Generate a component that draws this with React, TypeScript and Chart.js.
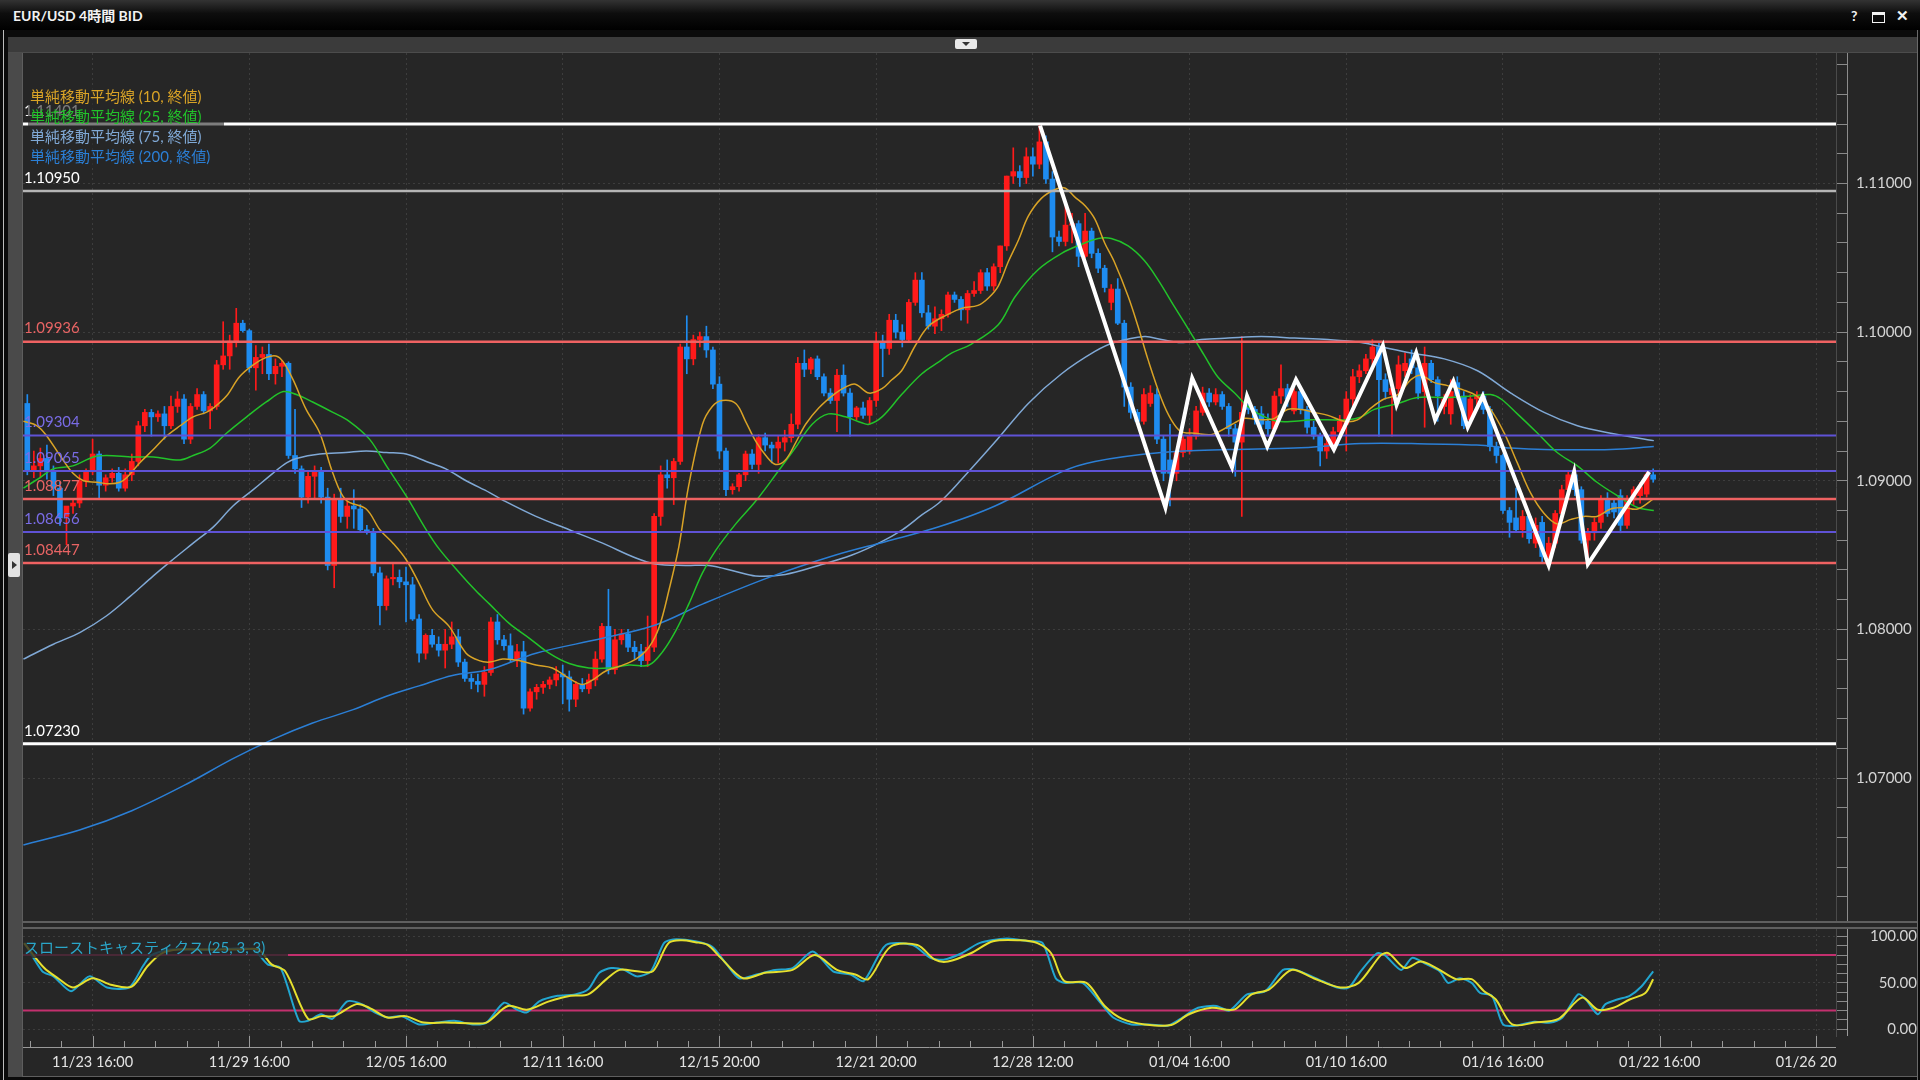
import React, { useEffect, useRef } from 'react';
import { Chart, registerables } from 'chart.js';

Chart.register(...registerables);

// ---------------- DATA ----------------
const opens = [
  1.0952,1.0907,1.0910,1.0915,1.0906,1.0895,1.0876,1.0883,1.0885,1.0900,
  1.0906,1.0918,1.0897,1.0902,1.0905,1.0895,1.0904,1.0913,1.0937,1.0946,
  1.0943,1.0945,1.0937,1.0950,1.0955,1.0928,1.0950,1.0958,1.0947,1.0950,
  1.0978,1.0984,1.0994,1.1006,1.1001,1.0976,1.0983,1.0985,1.0972,1.0977,
  1.0979,1.0917,1.0908,1.0889,1.0903,1.0907,1.0889,1.0843,1.0887,1.0876,
  1.0883,1.0881,1.0867,1.0866,1.0838,1.0816,1.0834,1.0835,1.0832,1.0830,
  1.0807,1.0784,1.0796,1.0790,1.0786,1.0790,1.0795,1.0778,1.0767,1.0765,
  1.0763,1.0771,1.0805,1.0793,1.0789,1.0780,1.0785,1.0747,1.0758,1.0761,
  1.0763,1.0766,1.0770,1.0768,1.0753,1.0763,1.0760,1.0766,1.0780,1.0802,
  1.0773,1.0793,1.0797,1.0788,1.0785,1.0779,1.0788,1.0876,1.0904,1.0902,
  1.0913,1.0990,1.0982,1.0995,1.0997,1.0988,1.0965,1.0920,1.0894,1.0896,
  1.0904,1.0918,1.0911,1.0929,1.0924,1.0922,1.0926,1.0929,1.0938,1.0979,
  1.0975,1.0982,1.0970,1.0959,1.0954,1.0971,1.0959,1.0943,1.0949,1.0944,
  1.0954,1.0993,1.0989,1.1008,1.1000,1.0995,1.1020,1.1035,1.1013,1.1004,
  1.1009,1.1012,1.1025,1.1022,1.1015,1.1026,1.1028,1.1040,1.1031,1.1044,
  1.1058,1.1105,1.1108,1.1104,1.1118,1.1113,1.1128,1.1103,1.1064,1.1061,
  1.1072,1.1073,1.1051,1.1068,1.1053,1.1043,1.1020,1.1029,1.1006,1.0963,
  1.0946,1.0940,1.0952,1.0958,1.0928,1.0914,1.0905,1.0919,1.0920,1.0930,
  1.0946,1.0959,1.0953,1.0958,1.0950,1.0935,1.0926,1.0950,1.0948,1.0945,
  1.0940,1.0935,1.0957,1.0962,1.0947,1.0960,1.0948,1.0936,1.0930,1.0920,
  1.0925,1.0933,1.0938,1.0955,1.0970,1.0974,1.0982,1.0990,1.0968,1.0958,
  1.0962,1.0974,1.0982,1.0976,1.0960,1.0979,1.0968,1.0950,1.0945,1.0966,
  1.0957,1.0941,1.0955,1.0957,1.0948,1.0923,1.0917,1.0880,1.0875,1.0867,
  1.0876,1.0858,1.0872,1.0849,1.0858,1.0878,1.0894,1.0904,1.0894,1.0860,
  1.0865,1.0872,1.0887,1.0885,1.0890,1.0870,1.0887,1.0890,1.0891,1.0904,
];
const highs = [
  1.0958,1.0920,1.0922,1.0924,1.0910,1.0899,1.0882,1.0888,1.0904,1.0908,
  1.0928,1.0920,1.0904,1.0908,1.0909,1.0908,1.0918,1.0940,1.0948,1.0948,
  1.0947,1.0950,1.0957,1.0960,1.0958,1.0952,1.0962,1.0960,1.0952,1.0981,
  1.1007,1.0998,1.1016,1.1008,1.1002,1.0991,1.0990,1.0992,1.0982,1.0981,
  1.0980,1.0948,1.0910,1.0906,1.0910,1.0909,1.0895,1.0891,1.0895,1.0886,
  1.0894,1.0884,1.0870,1.0868,1.0842,1.0836,1.0845,1.0840,1.0842,1.0835,
  1.0810,1.0797,1.0800,1.0795,1.0800,1.0805,1.0800,1.0780,1.0770,1.0770,
  1.0775,1.0808,1.0810,1.0796,1.0797,1.0790,1.0792,1.0760,1.0763,1.0765,
  1.0768,1.0775,1.0776,1.0772,1.0765,1.0767,1.0770,1.0785,1.0804,1.0827,
  1.0800,1.0800,1.0800,1.0792,1.0790,1.0809,1.0878,1.0910,1.0914,1.0915,
  1.0992,1.1011,1.0998,1.1000,1.1004,1.0990,1.0970,1.0922,1.0898,1.0905,
  1.0920,1.0921,1.0931,1.0932,1.0926,1.0930,1.0934,1.0945,1.0983,1.0988,
  1.0983,1.0984,1.0972,1.0962,1.0975,1.0978,1.0962,1.0950,1.0953,1.0956,
  1.1000,1.0998,1.1012,1.1012,1.1005,1.1022,1.1040,1.1040,1.1018,1.1017,
  1.1015,1.1027,1.1027,1.1024,1.1028,1.1034,1.1042,1.1043,1.1046,1.1058,
  1.1105,1.1124,1.1112,1.1124,1.1124,1.1139,1.1132,1.1108,1.1068,1.1087,
  1.1080,1.1075,1.1080,1.1070,1.1056,1.1045,1.1032,1.1036,1.1008,1.0966,
  1.0948,1.0962,1.0964,1.0962,1.0930,1.0938,1.0920,1.0930,1.0935,1.0950,
  1.0963,1.0962,1.0962,1.0960,1.0952,1.0938,1.0997,1.0956,1.0950,1.0950,
  1.0945,1.0960,1.0978,1.0965,1.0962,1.0962,1.0950,1.0940,1.0932,1.0928,
  1.0936,1.0944,1.0960,1.0975,1.0978,1.0985,1.0995,1.0993,1.0972,1.0966,
  1.0984,1.0986,1.0988,1.0978,1.0990,1.0981,1.0970,1.0958,1.0968,1.0970,
  1.0960,1.0958,1.0960,1.0960,1.0950,1.0926,1.0918,1.0882,1.0895,1.0880,
  1.0878,1.0875,1.0876,1.0862,1.0880,1.0897,1.0907,1.0907,1.0896,1.0868,
  1.0875,1.0890,1.0892,1.0888,1.0894,1.0890,1.0896,1.0899,1.0906,1.0908,
];
const lows = [
  1.0904,1.0902,1.0902,1.0901,1.0890,1.0870,1.0857,1.0878,1.0882,1.0896,
  1.0904,1.0888,1.0893,1.0899,1.0893,1.0893,1.0900,1.0910,1.0933,1.0930,
  1.0940,1.0928,1.0935,1.0946,1.0925,1.0925,1.0948,1.0945,1.0935,1.0948,
  1.0975,1.0975,1.0990,1.1000,1.0973,1.0961,1.0972,1.0968,1.0965,1.0970,
  1.0915,1.0905,1.0882,1.0885,1.0888,1.0885,1.0840,1.0828,1.0872,1.0868,
  1.0868,1.0866,1.0864,1.0836,1.0803,1.0813,1.0830,1.0828,1.0805,1.0806,
  1.0778,1.0780,1.0788,1.0782,1.0774,1.0787,1.0775,1.0765,1.0760,1.0758,
  1.0755,1.0769,1.0790,1.0786,1.0778,1.0775,1.0743,1.0745,1.0753,1.0757,
  1.0760,1.0762,1.0750,1.0745,1.0748,1.0758,1.0757,1.0762,1.0778,1.0770,
  1.0770,1.0790,1.0785,1.0780,1.0775,1.0775,1.0785,1.0870,1.0895,1.0884,
  1.0911,1.0972,1.0978,1.0990,1.0983,1.0962,1.0915,1.0890,1.0891,1.0893,
  1.0900,1.0908,1.0905,1.0920,1.0912,1.0912,1.0920,1.0926,1.0935,1.0970,
  1.0972,1.0968,1.0957,1.0952,1.0933,1.0957,1.0930,1.0941,1.0942,1.0938,
  1.0950,1.0970,1.0985,1.0996,1.0990,1.0993,1.1018,1.1010,1.1002,1.0999,
  1.1001,1.1010,1.1020,1.1008,1.1006,1.1024,1.1026,1.1028,1.1028,1.1040,
  1.1055,1.1100,1.1098,1.1100,1.1105,1.1110,1.1100,1.1054,1.1058,1.1058,
  1.1060,1.1044,1.1050,1.1050,1.1040,1.1027,1.1015,1.1005,1.0950,1.0942,
  1.0938,1.0938,1.0950,1.0925,1.0900,1.0883,1.0900,1.0916,1.0918,1.0928,
  1.0944,1.0950,1.0951,1.0948,1.0930,1.0903,1.0876,1.0945,1.0938,1.0935,
  1.0930,1.0933,1.0952,1.0950,1.0945,1.0945,1.0932,1.0928,1.0910,1.0915,
  1.0922,1.0930,1.0920,1.0950,1.0966,1.0972,1.0978,1.0930,1.0955,1.0930,
  1.0958,1.0970,1.0972,1.0955,1.0936,1.0966,1.0940,1.0945,1.0938,1.0955,
  1.0935,1.0938,1.0950,1.0945,1.0920,1.0912,1.0878,1.0862,1.0865,1.0862,
  1.0858,1.0855,1.0845,1.0845,1.0855,1.0875,1.0890,1.0890,1.0858,1.0845,
  1.0860,1.0868,1.0876,1.0875,1.0865,1.0868,1.0884,1.0885,1.0889,1.0899,
];
const closes = [
  1.0907,1.0910,1.0915,1.0906,1.0895,1.0875,1.0883,1.0885,1.0900,1.0906,
  1.0918,1.0897,1.0902,1.0905,1.0895,1.0904,1.0913,1.0937,1.0946,1.0943,
  1.0945,1.0937,1.0950,1.0955,1.0928,1.0950,1.0958,1.0947,1.0950,1.0978,
  1.0984,1.0994,1.1006,1.1001,1.0976,1.0983,1.0985,1.0972,1.0977,1.0979,
  1.0917,1.0908,1.0889,1.0903,1.0907,1.0889,1.0843,1.0887,1.0876,1.0883,
  1.0881,1.0867,1.0866,1.0838,1.0816,1.0834,1.0835,1.0832,1.0830,1.0807,
  1.0784,1.0796,1.0790,1.0786,1.0790,1.0795,1.0778,1.0767,1.0765,1.0763,
  1.0771,1.0805,1.0793,1.0789,1.0780,1.0785,1.0747,1.0758,1.0761,1.0763,
  1.0766,1.0770,1.0768,1.0753,1.0763,1.0760,1.0766,1.0780,1.0802,1.0773,
  1.0793,1.0797,1.0788,1.0785,1.0779,1.0788,1.0876,1.0904,1.0902,1.0913,
  1.0990,1.0982,1.0995,1.0997,1.0988,1.0965,1.0920,1.0894,1.0896,1.0904,
  1.0918,1.0911,1.0929,1.0924,1.0922,1.0926,1.0929,1.0938,1.0979,1.0975,
  1.0982,1.0970,1.0959,1.0954,1.0971,1.0959,1.0943,1.0949,1.0944,1.0954,
  1.0993,1.0989,1.1008,1.1000,1.0995,1.1020,1.1035,1.1013,1.1004,1.1009,
  1.1012,1.1025,1.1022,1.1015,1.1026,1.1028,1.1040,1.1031,1.1044,1.1058,
  1.1105,1.1108,1.1104,1.1118,1.1113,1.1128,1.1103,1.1064,1.1061,1.1072,
  1.1073,1.1051,1.1068,1.1053,1.1043,1.1030,1.1029,1.1006,1.0963,1.0946,
  1.0940,1.0958,1.0959,1.0928,1.0905,1.0905,1.0919,1.0928,1.0930,1.0947,
  1.0959,1.0953,1.0958,1.0950,1.0935,1.0926,1.0946,1.0948,1.0942,1.0938,
  1.0935,1.0957,1.0962,1.0955,1.0960,1.0948,1.0936,1.0930,1.0920,1.0925,
  1.0933,1.0940,1.0955,1.0970,1.0974,1.0982,1.0990,1.0968,1.0960,1.0962,
  1.0978,1.0979,1.0976,1.0959,1.0979,1.0968,1.0957,1.0955,1.0960,1.0957,
  1.0937,1.0955,1.0957,1.0948,1.0923,1.0917,1.0880,1.0872,1.0867,1.0876,
  1.0861,1.0870,1.0849,1.0858,1.0878,1.0894,1.0904,1.0894,1.0860,1.0865,
  1.0872,1.0887,1.0878,1.0879,1.0870,1.0887,1.0894,1.0896,1.0904,1.0901,
];

// Simple moving averages (bar index, price)
const sma10Bars = [-0.6,1.5,3,5,7,8.6,10.6,12.6,14.2,15.2,17.2,19.3,21.3,23.4,25.4,27.4,28.5,30.5,32.5,34.6,36.6,38.1,39.2,40.7,42.7,44.8,46.8,48.8,51.9,54,56,58,60,62.1,64.6,67.2,69.2,70.8,72.8,75.3,77.9,80.4,83,85,86.6,88.6,90.6,93.2,95.2,96.8,98.3,99.8,101.3,103.4,104.9,106.4,108.5,110,111.5,113.1,114.6,116.1,117.6,119.2,121.2,123.8,125.3,126.8,128.9,130.9,132.4,133.9,136,138,141,143.1,145.6,147.2,148.7,150.2,151.8,153.3,155.3,157.4,158.9,160.4,162,163.5,165,166.5,168.6,170.1,171.6,173.7,175.2,176.7,178.8,181.3,182.9,184.9,186.4,189,191,193,195.1,197.1,199.2,201.7,203.7,205.8,207.8,209.9,211.9,213.4,215.5,217.5,220,222,224.1,226.2,228.2,230.2,232.3,234.3,236.4,238.4,240.4,242.5,244.5,246.6,249.1];
const sma10Values = [1.0940,1.0937,1.0930,1.0917,1.0905,1.0900,1.0899,1.0898,1.0899,1.0902,1.0912,1.0921,1.0930,1.0937,1.0943,1.0946,1.0949,1.0957,1.0970,1.0978,1.0983,1.0984,1.0980,1.0968,1.0948,1.0932,1.0905,1.0887,1.0881,1.0867,1.0858,1.0847,1.0831,1.0813,1.0802,1.0784,1.0779,1.0778,1.0780,1.0779,1.0776,1.0774,1.0767,1.0763,1.0766,1.0772,1.0775,1.0780,1.0788,1.0802,1.0827,1.0856,1.0897,1.0938,1.0950,1.0954,1.0952,1.0940,1.0927,1.0917,1.0911,1.0914,1.0925,1.0938,1.0949,1.0959,1.0963,1.0965,1.0959,1.0962,1.0968,1.0974,1.0991,1.1004,1.1012,1.1016,1.1018,1.1023,1.1031,1.1047,1.1062,1.1078,1.1090,1.1096,1.1097,1.1091,1.1085,1.1076,1.1060,1.1047,1.1024,1.1004,1.0982,1.0955,1.0941,1.0933,1.0932,1.0931,1.0934,1.0939,1.0942,1.0941,1.0942,1.0948,1.0948,1.0946,1.0944,1.0940,1.0941,1.0949,1.0955,1.0958,1.0968,1.0971,1.0966,1.0964,1.0961,1.0957,1.0948,1.0932,1.0912,1.0892,1.0878,1.0871,1.0874,1.0876,1.0876,1.0881,1.0882,1.0881,1.0888];

const sma25Bars = [-0.6,1.9,4,7,10.1,12.1,16.2,19.3,23.4,25.4,28,30.5,33.6,36.6,39.2,41.2,43.7,46.8,49.3,52.4,55,58,61.1,63.1,66.2,68.7,70.8,73.8,76.9,79.9,83,86,89.1,92.2,95.2,97.3,99.3,101.3,103.4,105.4,108.5,111.5,114.6,117.6,120.2,122.7,125.3,127.8,128.9,130.9,133.9,137,139.6,141.6,144.6,148.7,151.3,154.8,158.4,161.4,164,166,168.6,171.1,173.2,175.7,178.8,180.3,182.3,184.9,186.9,189,191.5,194.1,196.6,199.2,202.2,204.3,206.3,209.9,212.9,217,221.1,224.1,225.7,228.2,231.3,234.3,237.4,240.4,243.5,246.6,249.1];
const sma25Values = [1.0895,1.0902,1.0908,1.0910,1.0916,1.0917,1.0916,1.0916,1.0914,1.0917,1.0922,1.0932,1.0943,1.0953,1.0960,1.0958,1.0953,1.0946,1.0940,1.0928,1.0910,1.0890,1.0867,1.0854,1.0838,1.0826,1.0817,1.0804,1.0794,1.0784,1.0777,1.0774,1.0774,1.0776,1.0776,1.0785,1.0799,1.0817,1.0838,1.0853,1.0871,1.0886,1.0904,1.0922,1.0938,1.0945,1.0943,1.0939,1.0938,1.0943,1.0958,1.0972,1.0980,1.0986,1.0992,1.1005,1.1024,1.1042,1.1053,1.1059,1.1063,1.1063,1.1058,1.1048,1.1035,1.1017,1.0995,1.0984,1.0970,1.0959,1.0950,1.0944,1.0940,1.0940,1.0941,1.0941,1.0941,1.0943,1.0948,1.0952,1.0956,1.0956,1.0957,1.0958,1.0955,1.0945,1.0932,1.0919,1.0910,1.0899,1.0890,1.0882,1.0880];

const sma75Bars = [-0.6,4,8.1,12.1,15.7,19.3,22.3,25.4,28.5,31.5,34.6,37.6,39.7,41.2,44.8,48.8,51.9,55,58,61.1,64.1,67.2,70.8,72.8,77.9,83,88.1,93.2,96.2,100.8,104.4,108.5,111.5,116.1,121.2,126.3,130.4,134,137,139.6,143.1,148.2,153.3,158.4,163.5,166.5,171.1,173.7,176.7,179.8,183.9,189,194.1,199.2,204.3,207.5,211.9,217,222.1,227.2,232.3,237.4,242.5,249.1];
const sma75Values = [1.0780,1.0790,1.0798,1.0809,1.0822,1.0836,1.0847,1.0858,1.0869,1.0883,1.0894,1.0905,1.0912,1.0915,1.0918,1.0919,1.0920,1.0919,1.0918,1.0913,1.0908,1.0900,1.0892,1.0887,1.0876,1.0867,1.0858,1.0848,1.0844,1.0843,1.0843,1.0839,1.0836,1.0837,1.0843,1.0850,1.0858,1.0867,1.0877,1.0885,1.0901,1.0926,1.0952,1.0972,1.0987,1.0993,1.0997,1.0995,1.0993,1.0995,1.0996,1.0997,1.0996,1.0995,1.0993,1.0990,1.0986,1.0982,1.0974,1.0959,1.0946,1.0937,1.0932,1.0927];

const sma200Bars = [-0.6,8,16,24,31.5,37.6,43.7,49.9,55,60,65.1,70.8,77.9,88.1,96.2,103.4,113.6,123.8,131.4,139.6,148.2,158.4,163.5,173.7,183.9,194.1,204.3,212,222,227.2,232.3,242.5,249.1];
const sma200Values = [1.0655,1.0665,1.0678,1.0695,1.0713,1.0726,1.0737,1.0746,1.0755,1.0762,1.0769,1.0773,1.0784,1.0794,1.0803,1.0817,1.0835,1.0850,1.0859,1.0869,1.0883,1.0906,1.0913,1.0919,1.0921,1.0922,1.0925,1.0925,1.0924,1.0922,1.0921,1.0921,1.0923];

// Horizontal price levels
const levelPrices = [1.11401, 1.10950, 1.09936, 1.09304, 1.09065, 1.08877, 1.08656, 1.08447, 1.07230];
const levelKinds = ['white', 'gray', 'red', 'purple', 'purple', 'red', 'purple', 'red', 'white'];

// White zigzag drawn on the chart
const zigzagBars = [155.1, 174.3, 178.4, 184.5, 186.8, 189.9, 194.3, 200.1, 207.6, 209.7, 212.7, 215.6, 218.4, 220.6, 222.9, 233.0, 236.9, 239.0, 248.4];
const zigzagPrices = [1.1139, 1.0882, 1.0969, 1.0909, 1.0957, 1.0923, 1.0968, 1.0921, 1.0991, 1.0951, 1.0986, 1.0941, 1.0967, 1.0936, 1.0957, 1.0843, 1.0906, 1.0844, 1.0906];

// Slow stochastics (25,3,3)
const stochKBars = [-0.4,2.3,4,6.7,9.5,12.2,15.6,17.7,19,21.8,25.2,28.6,32.7,34.7,36.8,38.8,41.6,43,45,46.7,49,51.2,53.2,55.2,57.3,60,62.7,65.4,68.2,70.3,73,75,76.5,78.4,81.2,83.9,85.9,87.6,89.4,91.4,93.4,95.5,97.5,98.9,102.3,104.9,107,109,111.7,114.5,117.2,120.3,123.4,126.1,128.1,131.5,135.6,138.3,140.3,143.1,145.8,150,153.3,155.5,157.5,158.8,161.6,164.3,166.3,169.1,171.8,174.6,176.6,179.3,182.1,184.1,186.8,189.6,192.3,194.3,198.3,200.6,202.4,204.2,206.7,207.9,210.4,212.1,214,216.3,217.6,219.4,221.2,222.5,224.3,226,227.8,230.8,233.3,235.1,237.5,238.7,240.5,241.7,243.5,245.4,247.2,249];
const stochKValues = [93,62.5,57,41,57,45,45,68,80,86,86,86,87.5,86,70,66,9,9,16,11,30,27,18,12.5,14,5,7,9,5,7,28.5,21,18,30,36,37.5,43,61,66,64,57,62.5,93,97,95,89,71,55,59,64,66,84,62.5,59,52,91,91,77,75,82,93,98,95,93,55,50,50,29,12.5,5,5,3.6,11,23,25,20,37.5,41,64,64,52,45,45,62.5,82,80,64,77,71,62.5,50,55,50,39,36,5,3.6,8,7,12.5,37.5,32,16,27,32,36,46,62.5];
const stochDBars = [-0.5,2.6,4.7,7,10,12.8,16,18.4,20.6,23.2,27.3,32.7,35.4,37.4,39.5,43,45,47,50.4,52.4,55.2,57.9,60.7,64,67.5,70.3,73.6,76.5,79.9,83.2,85.9,88.7,90.7,93.4,95.8,98.2,100.2,102.3,104.2,106.2,109.6,113,117.2,120.6,124,126.8,128.8,132.2,136.3,139,141,144.5,147.9,152,154.7,156.8,158.8,162.2,165,167.7,171.1,175.2,177.9,181.4,184.8,187.5,190.2,193.6,197,201.1,203.9,207.3,208.5,211,213.4,215.8,218.8,221.2,223.1,224.9,227.4,230.8,234.5,238.1,240.5,242.9,245.4,247.8,249];
const stochDValues = [93,66,55,45,55,48,46,68,82,86,86,86,86,70,62.5,11,14,14,27,23,12.5,14,7,7,6.4,7,25,21,30,36,37.5,54,64,62.5,62.5,93,96,94,91,77,55,61,64,80,64,59,54,89,91,75,73,82,95,96,93,82,52,50,25,11,5,4.3,16,23,21,37.5,43,64,55,45,50,80,82,66,73,66,54,54,41,32,5,7,11,34,21,23,32,39,54];
const stochLevels = [80, 20];

// Axis labels
const timeLabelBars = [10, 34, 58, 82, 106, 130, 154, 178, 202, 226, 250, 274];
const timeLabels = ['11/23 16:00', '11/29 16:00', '12/05 16:00', '12/11 16:00', '12/15 20:00', '12/21 20:00', '12/28 12:00', '01/04 16:00', '01/10 16:00', '01/16 16:00', '01/22 16:00', '01/26 20:00'];
const legendTexts = ['単純移動平均線 (10, 終値)', '単純移動平均線 (25, 終値)', '単純移動平均線 (75, 終値)', '単純移動平均線 (200, 終値)'];
const stochTitle = 'スローストキャスティクス (25, 3, 3)';
const chartTitle = 'EUR/USD 4時間 BID';

// ---------------- STYLE ----------------
const FONT = 'Lato, "Noto Sans CJK JP", sans-serif';
const BG = '#262626';
const UP = '#ff1a1a';
const DOWN = '#1e8cf0';
const C10 = '#d9a326';
const C25 = '#22c32a';
const C75 = '#80a9d6';
const C200 = '#2b7fd6';
const KIND_COLOR: Record<string, string> = { white: '#ffffff', gray: '#b5b5b5', red: '#ef6262', purple: '#5f52d6' };
const KIND_LABEL: Record<string, string> = { white: '#ffffff', gray: '#ffffff', red: '#e86464', purple: '#7a6ce6' };
const KIND_WIDTH: Record<string, number> = { white: 3, gray: 2.5, red: 2.5, purple: 2 };

const X_MIN = -0.66;
const X_MAX = 277.0;
const P_MIN = 1.06038;
const P_MAX = 1.11878;
const S_MIN = -7.5;
const S_MAX = 108.25;
const AXIS_W = 81;

const pts = (xs: number[], ys: number[]) => xs.map((x, k) => ({ x, y: ys[k] }));
const isPriceMajor = (v: number) => Math.abs(v * 100 - Math.round(v * 100)) < 1e-6;

function buildTimeTicks() {
  const out: { value: number; major: boolean }[] = [];
  const step = (timeLabelBars[1] - timeLabelBars[0]) / 5;
  for (let k = 2; k >= 1; k--) out.push({ value: timeLabelBars[0] - step * k, major: false });
  timeLabelBars.forEach((b, j) => {
    out.push({ value: b, major: true });
    const next = j + 1 < timeLabelBars.length ? timeLabelBars[j + 1] : b + (b - timeLabelBars[j - 1]);
    for (let m = 1; m < 5; m++) {
      const v = b + ((next - b) * m) / 5;
      if (v <= X_MAX) out.push({ value: v, major: false });
    }
  });
  return out;
}

const mainOverlay = {
  id: 'mainOverlay',
  afterDatasetsDraw(chart: any) {
    const { ctx, chartArea, scales } = chart;
    const ys = scales.y;
    ctx.save();
    ctx.font = `15px ${FONT}`;
    ctx.textBaseline = 'middle';
    ctx.textAlign = 'left';
    levelPrices.forEach((v, k) => {
      const y = ys.getPixelForValue(v);
      ctx.fillStyle = KIND_LABEL[levelKinds[k]];
      ctx.fillText(v.toFixed(5), chartArea.left + 1, y - 13);
    });
    ctx.fillStyle = 'rgba(38,38,38,0.6)';
    ctx.fillRect(5, 33, 196, 80);
    const legendColors = [C10, C25, C75, C200];
    legendTexts.forEach((t, k) => {
      ctx.fillStyle = legendColors[k];
      ctx.fillText(t, 7, 44 + k * 20);
    });
    ctx.strokeStyle = '#8c8c8c';
    ctx.lineWidth = 1;
    ctx.beginPath();
    ctx.moveTo(chartArea.right + 11.5, 0);
    ctx.lineTo(chartArea.right + 11.5, chart.height);
    ctx.stroke();
    ctx.restore();
  },
};

const stochOverlay = {
  id: 'stochOverlay',
  afterDatasetsDraw(chart: any) {
    const { ctx } = chart;
    ctx.save();
    ctx.fillStyle = 'rgba(38,38,38,0.78)';
    ctx.fillRect(0, 10, 265, 19);
    ctx.font = `15px ${FONT}`;
    ctx.textBaseline = 'middle';
    ctx.fillStyle = '#2aa6c9';
    ctx.fillText(stochTitle, 1, 19);
    ctx.restore();
  },
  afterDraw(chart: any) {
    const { ctx, chartArea: ca, scales } = chart;
    const xs = scales.x;
    ctx.save();
    ctx.fillStyle = BG;
    ctx.fillRect(ca.right + 1, ca.bottom + 10, chart.width - ca.right, chart.height - ca.bottom);
    ctx.strokeStyle = '#9a9a9a';
    ctx.lineWidth = 1;
    xs.ticks.forEach((t: any) => {
      const px = Math.round(xs.getPixelForValue(t.value)) + 0.5;
      ctx.beginPath();
      ctx.moveTo(px, ca.bottom + (t.major ? 0 : 5));
      ctx.lineTo(px, ca.bottom + 11);
      ctx.stroke();
    });
    ctx.beginPath();
    ctx.moveTo(ca.left, ca.bottom + 11.5);
    ctx.lineTo(ca.right, ca.bottom + 11.5);
    ctx.stroke();
    ctx.beginPath();
    ctx.moveTo(ca.right + 11.5, 0);
    ctx.lineTo(ca.right + 11.5, ca.bottom);
    ctx.stroke();
    ctx.restore();
  },
};

function mainConfig(): any {
  const idx = closes.map((_, i) => i);
  const colors = idx.map((i) => (closes[i] >= opens[i] ? UP : DOWN));
  const maLine = (xs: number[], ys: number[], color: string, order: number) => ({
    type: 'line',
    data: pts(xs, ys),
    borderColor: color,
    borderWidth: 1.5,
    pointRadius: 0,
    tension: 0.35,
    order,
  });
  const levelSets = levelPrices.map((v, k) => ({
    type: 'line',
    data: [{ x: X_MIN, y: v }, { x: X_MAX, y: v }],
    borderColor: KIND_COLOR[levelKinds[k]],
    borderWidth: KIND_WIDTH[levelKinds[k]],
    pointRadius: 0,
    order: 3,
  }));
  return {
    type: 'bar',
    data: {
      datasets: [
        {
          type: 'bar',
          data: idx.map((i) => ({ x: i, y: [lows[i], highs[i]] })),
          backgroundColor: colors,
          barThickness: 1,
          grouped: false,
          order: 12,
        },
        {
          type: 'bar',
          data: idx.map((i) => ({ x: i, y: [opens[i], closes[i]] })),
          backgroundColor: colors,
          barThickness: 5,
          minBarLength: 1,
          grouped: false,
          order: 11,
        },
        maLine(sma200Bars, sma200Values, C200, 6),
        maLine(sma75Bars, sma75Values, C75, 6),
        maLine(sma25Bars, sma25Values, C25, 5),
        maLine(sma10Bars, sma10Values, C10, 4),
        ...levelSets,
        {
          type: 'line',
          data: pts(zigzagBars, zigzagPrices),
          borderColor: '#ffffff',
          borderWidth: 4,
          pointRadius: 0,
          tension: 0,
          order: 0,
        },
      ],
    },
    options: {
      animation: false,
      responsive: false,
      events: [],
      layout: { padding: 0 },
      plugins: { legend: { display: false }, tooltip: { enabled: false } },
      scales: {
        x: {
          type: 'linear',
          min: X_MIN,
          max: X_MAX,
          offset: false,
          afterBuildTicks: (s: any) => {
            s.ticks = timeLabelBars.map((v) => ({ value: v }));
          },
          afterFit: (s: any) => {
            s.height = 0;
            s.paddingLeft = 0;
            s.paddingRight = 0;
          },
          ticks: { display: false },
          grid: { color: '#3d3d3d', drawTicks: false, offset: false },
          border: { display: false, dash: [2, 3] },
        },
        y: {
          position: 'right',
          min: P_MIN,
          max: P_MAX,
          afterFit: (s: any) => {
            s.width = AXIS_W;
            s.paddingTop = 0;
            s.paddingBottom = 0;
          },
          ticks: {
            stepSize: 0.002,
            includeBounds: false,
            autoSkip: false,
            padding: 9,
            color: '#d4d4d4',
            font: { family: FONT, size: 15 },
            callback: (v: number) => (isPriceMajor(v) ? v.toFixed(5) : ''),
          },
          grid: {
            color: (c: any) => (c.tick && isPriceMajor(c.tick.value) ? '#3d3d3d' : 'rgba(0,0,0,0)'),
            tickColor: '#8a8a8a',
            tickLength: 11,
            drawTicks: true,
          },
          border: { display: true, color: '#4a4a4a', dash: [2, 3] },
        },
      },
    },
    plugins: [mainOverlay],
  };
}

function stochConfig(): any {
  const ticks = buildTimeTicks();
  return {
    type: 'line',
    data: {
      datasets: [
        ...stochLevels.map((v) => ({
          data: [{ x: X_MIN, y: v }, { x: X_MAX, y: v }],
          borderColor: '#c3306e',
          borderWidth: 2,
          pointRadius: 0,
          order: 5,
        })),
        {
          data: pts(stochKBars, stochKValues),
          borderColor: '#22a6d0',
          borderWidth: 2,
          pointRadius: 0,
          tension: 0.25,
          order: 2,
        },
        {
          data: pts(stochDBars, stochDValues),
          borderColor: '#e6e02e',
          borderWidth: 2,
          pointRadius: 0,
          tension: 0.3,
          order: 1,
        },
      ],
    },
    options: {
      animation: false,
      responsive: false,
      events: [],
      layout: { padding: 0 },
      plugins: { legend: { display: false }, tooltip: { enabled: false } },
      scales: {
        x: {
          type: 'linear',
          min: X_MIN,
          max: X_MAX,
          offset: false,
          afterBuildTicks: (s: any) => {
            s.ticks = ticks.map((t) => ({ ...t }));
          },
          afterFit: (s: any) => {
            s.height = 40;
            s.paddingLeft = 0;
            s.paddingRight = 0;
          },
          ticks: {
            autoSkip: false,
            maxRotation: 0,
            padding: 18,
            color: '#e4e4e4',
            font: { family: FONT, size: 14.5 },
            callback: (v: number) => {
              const j = timeLabelBars.indexOf(v);
              return j >= 0 ? timeLabels[j] : '';
            },
          },
          grid: {
            color: (c: any) => (c.tick && timeLabelBars.indexOf(c.tick.value) >= 0 ? '#3d3d3d' : 'rgba(0,0,0,0)'),
            drawTicks: false,
          },
          border: { display: false, dash: [2, 3] },
        },
        y: {
          position: 'right',
          min: S_MIN,
          max: S_MAX,
          afterFit: (s: any) => {
            s.width = AXIS_W;
            s.paddingTop = 0;
            s.paddingBottom = 0;
          },
          ticks: {
            stepSize: 10,
            includeBounds: false,
            autoSkip: false,
            padding: 16,
            crossAlign: 'far',
            color: '#d4d4d4',
            font: { family: FONT, size: 15 },
            callback: (v: number) => (v % 50 === 0 ? v.toFixed(2) : ''),
          },
          grid: {
            color: (c: any) => (c.tick && c.tick.value % 50 === 0 ? '#3d3d3d' : 'rgba(0,0,0,0)'),
            tickColor: '#8a8a8a',
            tickLength: 11,
          },
          border: { display: true, color: '#4a4a4a', dash: [2, 3] },
        },
      },
    },
    plugins: [stochOverlay],
  };
}

export default function App() {
  const mainRef = useRef<HTMLCanvasElement>(null);
  const stochRef = useRef<HTMLCanvasElement>(null);

  useEffect(() => {
    const c1 = new Chart(mainRef.current as HTMLCanvasElement, mainConfig());
    const c2 = new Chart(stochRef.current as HTMLCanvasElement, stochConfig());
    return () => {
      c1.destroy();
      c2.destroy();
    };
  }, []);

  const abs = (s: React.CSSProperties): React.CSSProperties => ({ position: 'absolute', ...s });

  return (
    <div style={{ position: 'fixed', left: 0, top: 0, width: 1920, height: 1080, background: '#0b0b0b', overflow: 'hidden', fontFamily: FONT }}>
      {/* title bar */}
      <div style={abs({ left: 0, top: 0, width: 1920, height: 30, background: 'linear-gradient(#333 0%, #0d0d0d 45%, #000 100%)' })} />
      <div style={abs({ left: 13, top: 6, color: '#f2f2f2', fontSize: 14, fontWeight: 700, lineHeight: '20px' })}>{chartTitle}</div>
      <div style={abs({ left: 1851, top: 6, color: '#f2f2f2', fontSize: 14, fontWeight: 700, lineHeight: '20px' })}>?</div>
      <div style={abs({ left: 1872, top: 12, width: 11, height: 7, border: '1.5px solid #f2f2f2', borderTopWidth: 3 })} />
      <div style={abs({ left: 1896, top: 5, color: '#f2f2f2', fontSize: 15, fontWeight: 700, lineHeight: '20px' })}>✕</div>
      {/* window borders */}
      <div style={abs({ left: 3, top: 30, width: 1, height: 1050, background: '#bdbdbd' })} />
      <div style={abs({ left: 1917, top: 30, width: 1, height: 1050, background: '#6a6a6a' })} />
      {/* toolbar band */}
      <div style={abs({ left: 8, top: 37, width: 1909, height: 15, background: '#3b3b3b', borderBottom: '1px solid #4c4c4c' })} />
      <div style={abs({ left: 955, top: 39, width: 22, height: 10, background: '#e8e8e8', borderRadius: 2 })} />
      <div style={abs({ left: 962, top: 42, width: 0, height: 0, borderLeft: '4px solid transparent', borderRight: '4px solid transparent', borderTop: '4px solid #333' })} />
      {/* left strip */}
      <div style={abs({ left: 8, top: 53, width: 14, height: 1024, background: '#4a4a4a', borderRight: '1px solid #5e5e5e' })} />
      <div style={abs({ left: 8, top: 553, width: 12, height: 24, background: '#e2e2e2', borderRadius: 2 })} />
      <div style={abs({ left: 12, top: 561, width: 0, height: 0, borderTop: '4px solid transparent', borderBottom: '4px solid transparent', borderLeft: '5px solid #333' })} />
      {/* panels */}
      <div style={abs({ left: 23, top: 53, width: 1894, height: 1024, background: BG })} />
      <div style={abs({ left: 23, top: 921, width: 1894, height: 2, background: '#5f5f5f' })} />
      <div style={abs({ left: 23, top: 927, width: 1894, height: 2, background: '#5f5f5f' })} />
      <div style={abs({ left: 23, top: 1076, width: 1894, height: 1, background: '#5f5f5f' })} />
      <canvas ref={mainRef} width={1894} height={868} style={abs({ left: 23, top: 53 })} />
      <canvas ref={stochRef} width={1894} height={147} style={abs({ left: 23, top: 929 })} />
    </div>
  );
}
